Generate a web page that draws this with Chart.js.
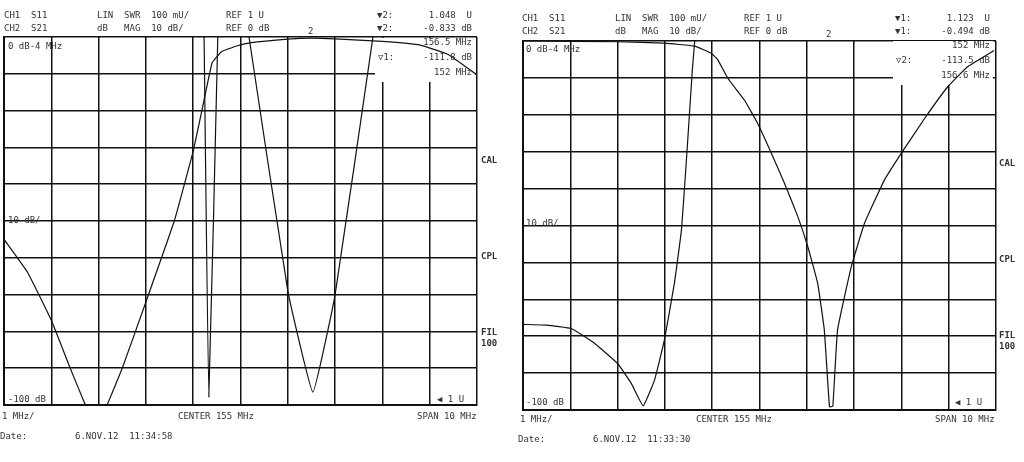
<!DOCTYPE html>
<html><head><meta charset="utf-8">
<script src="https://cdn.jsdelivr.net/npm/chart.js@4/dist/chart.umd.min.js"></script>
<style>html,body{margin:0;padding:0;background:#fff;width:1024px;height:462px;overflow:hidden}
.p{position:absolute;top:0;width:512px;height:462px}</style></head><body>
<div class="p" style="left:0"><canvas id="c1"></canvas></div>
<div class="p" style="left:512px"><canvas id="c2"></canvas></div>
<script>
// Left panel (11:34:58)
const leftS21 = [[150,-55],[150.5,-64],[151.0,-77],[151.4,-90],[151.72,-100],[null,null],[152.18,-100],[152.5,-90],[153.0,-72],[153.6,-50],[154.0,-31],[154.2,-19],[154.4,-7],[154.6,-4],[154.9,-2.5],[155.2,-1.6],[156.0,-0.6],[156.5,-0.3],[157.0,-0.5],[158.0,-1.2],[158.8,-2.2],[159.4,-4.8],[160,-10.3]];
const leftS11 = [[154.23,0],[154.33,-97.8],[154.52,0],[null,null],[155.18,0],[156.0,-69],[156.53,-96.5],[157.0,-70],[157.8,0]];
// Right panel (11:33:30)
const rightS11 = [[150,-76.8],[150.5,-77],[151.02,-77.9],[151.51,-81.9],[152.0,-87.4],[152.29,-92.8],[152.54,-98.9],[152.78,-91.9],[152.99,-81.0],[153.2,-65.7],[153.35,-51.2],[153.45,-33.2],[153.52,-19.6],[153.58,-7.9],[153.63,0]];
const rightS21 = [[150,0],[152.0,-0.2],[152.99,-0.6],[153.63,-1.4],[153.98,-3.3],[154.12,-5.1],[154.33,-10.1],[154.68,-16],[154.96,-22.3],[155.25,-30.4],[155.53,-38.6],[155.81,-47.6],[156.02,-55.7],[156.23,-65.7],[156.37,-78.3],[156.48,-99.1],[156.55,-99],[156.65,-78.3],[156.94,-61.2],[157.22,-49.4],[157.64,-37.7],[158.0,-30.4],[158.49,-21],[158.98,-12.4],[159.4,-7],[159.96,-2.6]];
const xTicks = {min:150,max:160,step:1};
const yTicks = {min:-100,max:0,step:10};

function toPts(a){return a.map(p=>({x:p[0],y:p[1]}));}

function texts(list){
  return {id:'txt',afterDraw(ch){
    const c=ch.ctx;c.save();c.fillStyle='#333';c.textBaseline='middle';
    for(const t of list){
      if(!t.t) continue;
      c.font=(t.b?'bold ':'')+(t.s||9)+'px "DejaVu Sans Mono"';
      c.textAlign=t.a||'left';c.fillText(t.t,t.x,t.y);
    }
    c.restore();
  },beforeDatasetsDraw(ch){
    const c=ch.ctx;c.save();c.fillStyle='#fff';
    for(const t of list){ if(t.box){c.fillRect(t.box[0],t.box[1],t.box[2],t.box[3]);} }
    c.restore();
  }};
}

function make(id,d1,d2,pad,txt){
  return new Chart(document.getElementById(id),{type:'line',
    data:{datasets:[
      {data:toPts(d1),borderColor:'#111',borderWidth:1.2,pointRadius:0,spanGaps:false,tension:0.1},
      {data:toPts(d2),borderColor:'#111',borderWidth:1.2,pointRadius:0,spanGaps:false,tension:0.1}]},
    options:{responsive:false,animation:false,devicePixelRatio:1,
      layout:{padding:pad},
      plugins:{legend:{display:false},tooltip:{enabled:false}},
      scales:{
        x:{type:'linear',min:xTicks.min,max:xTicks.max,ticks:{display:false,stepSize:xTicks.step},
           grid:{color:'#111',lineWidth:1.5,drawTicks:false},border:{color:'#111',width:2}},
        y:{min:yTicks.min,max:yTicks.max,ticks:{display:false,stepSize:yTicks.step},
           grid:{color:'#111',lineWidth:1.5,drawTicks:false},border:{color:'#111',width:2}}
      }},
    plugins:[texts(txt)]});
}
document.getElementById('c1').width=512;document.getElementById('c1').height=462;
document.getElementById('c2').width=512;document.getElementById('c2').height=462;

function panel(ox,oy,v){
  return [
    {box:[ox+375,oy+38,100,44]},
    {t:'CH1  S11',x:ox+4,y:oy+16},{t:'CH2  S21',x:ox+4,y:oy+29},
    {t:'LIN  SWR  100 mU/',x:ox+97,y:oy+16},{t:'dB   MAG  10 dB/',x:ox+97,y:oy+29},
    {t:'REF 1 U',x:ox+226,y:oy+16},{t:'REF 0 dB',x:ox+226,y:oy+29},
    {t:v.m1,x:ox+377,y:oy+16},{t:v.v1,x:ox+472,y:oy+16,a:'right'},
    {t:v.m1,x:ox+377,y:oy+29},{t:v.v2,x:ox+472,y:oy+29,a:'right'},
    {t:v.f1,x:ox+472,y:oy+43,a:'right'},
    {t:v.m2,x:ox+378,y:oy+58},{t:v.v3,x:ox+472,y:oy+58,a:'right'},
    {t:v.f2,x:ox+472,y:oy+73,a:'right'},
    {t:'2',x:v.mx,y:oy+32},
    {t:'0 dB-4 MHz',x:ox+8,y:oy+47},{t:'10 dB/',x:ox+8,y:oy+221},{t:'-100 dB',x:ox+8,y:oy+400},
    {t:'CAL',x:ox+481,y:oy+161,b:1},{t:'CPL',x:ox+481,y:oy+257,b:1},
    {t:'FIL',x:ox+481,y:oy+333,b:1},{t:'100',x:ox+481,y:oy+344,b:1},
    {t:'◀ 1 U',x:ox+437,y:oy+400},
    {t:'1 MHz/',x:ox+2,y:oy+417},{t:'CENTER 155 MHz',x:ox+178,y:oy+417},{t:'SPAN 10 MHz',x:ox+417,y:oy+417},
    {t:'Date:',x:ox+0,y:oy+437},{t:'6.NOV.12  11:'+v.time,x:ox+75,y:oy+437}
  ];
}
make('c1',leftS21,leftS11,{left:4,right:35,top:37,bottom:57},
  panel(0,0,{m1:'▼2:',v1:'1.048  U',v2:'-0.833 dB',f1:'156.5 MHz',m2:'▽1:',v3:'-111.8 dB',f2:'152 MHz',mx:308,time:'34:58'}));
make('c2',rightS11,rightS21,{left:11,right:28,top:41,bottom:52},
  panel(6,3,{m1:'▼1:',v1:'1.123  U',v2:'-0.494 dB',f1:'152 MHz',m2:'▽2:',v3:'-113.5 dB',f2:'156.6 MHz',mx:314,time:'33:30'}));
</script></body></html>
